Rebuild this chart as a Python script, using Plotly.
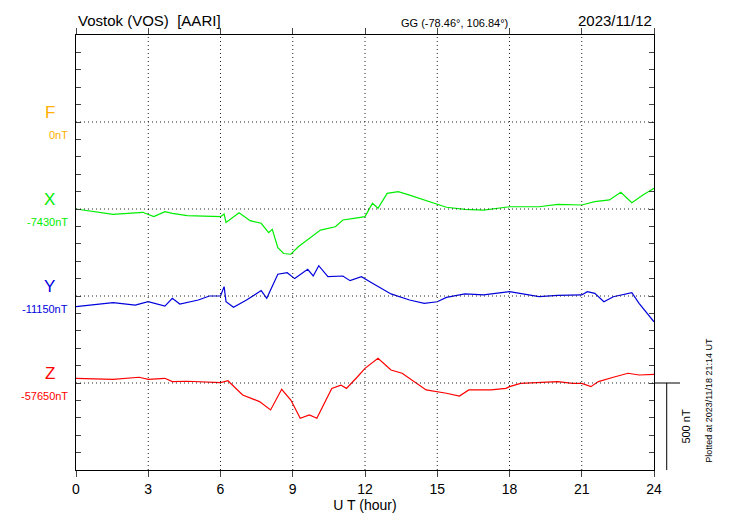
import plotly.graph_objects as go

# hours and deviations (nT)
x_hours = [0, 1.54, 2.77, 3.23, 3.69, 4.0, 4.62, 6.0, 6.15, 6.23, 6.77, 7.23, 7.69, 8.0, 8.15,
           8.38, 8.62, 8.92, 9.23, 9.69, 10.15, 10.77, 11.08, 11.54, 12.0, 12.31, 12.54, 12.92,
           13.38, 13.85, 14.46, 14.92, 15.38, 16.15, 16.92, 18, 19.23, 20, 21, 21.54, 22.15,
           22.62, 23.08, 23.54, 24]
x_vals = [0, -31, -19, -44, -15, -25, -38, -44, -29, -77, -21, -67, -82, -136, -117, -222,
          -256, -260, -217, -169, -121, -102, -63, -54, -44, 33, 4, 90, 100, 80, 52, 29, 10,
          -2, -6, 13, 13, 27, 23, 42, 52, 96, 36, 80, 119]

y_hours = [0, 1.54, 2.46, 3, 3.69, 4, 4.31, 5.08, 5.54, 6, 6.15, 6.23, 6.54, 7.08, 7.69, 7.92,
           8.38, 8.77, 9.08, 9.62, 9.85, 10.08, 10.46, 11.08, 11.38, 11.85, 12.31, 13.08, 13.85,
           14.46, 15, 15.38, 16.15, 16.92, 18, 18.46, 19.23, 20, 21, 21.23, 21.54, 21.92, 22.31,
           23.08, 23.38, 24]
y_vals = [-61, -38, -52, -33, -58, -13, -46, -23, 0, 0, 54, -33, -65, -23, 31, -13, 125, 134,
          100, 153, 115, 174, 111, 115, 88, 111, 73, 12, -23, -42, -33, -8, 12, 6, 25, 15, -4,
          4, 6, 25, 15, -33, -4, 19, -42, -148]

z_hours = [0, 1.54, 2.62, 3, 3.69, 4, 4.62, 6, 6.31, 6.92, 7.62, 8.08, 8.54, 8.92, 9.31, 9.69,
           10, 10.62, 11, 11.23, 11.69, 12, 12.54, 13.08, 13.54, 14.15, 14.54, 15.38, 15.92,
           16.31, 17.23, 17.85, 18, 18.46, 19.38, 20, 20.62, 21, 21.38, 21.69, 22.31, 22.92,
           23.38, 24]
z_vals = [27, 21, 33, 21, 27, 8, 10, 2, 13, -69, -107, -155, -36, -98, -203, -184, -203, -31,
          -12, -31, 36, 84, 142, 75, 56, -2, -40, -59, -75, -40, -40, -31, -21, -2, 2, 8, -2,
          -2, -21, 8, 33, 56, 46, 50]

components = ["F", "X", "Y", "Z"]
baselines = ["0nT", "-7430nT", "-11150nT", "-57650nT"]
offsets = [2000, 1500, 1000, 500]
colors = ["#ffb000", "#00ee00", "#0000dd", "#ff0000"]

fig = go.Figure()
series = [(x_hours, x_vals), (y_hours, y_vals), (z_hours, z_vals)]
for (hrs, vals), off, col, name in zip(series, offsets[1:], colors[1:], components[1:]):
    fig.add_trace(go.Scatter(x=hrs, y=[v + off for v in vals], mode="lines",
                             line=dict(color=col, width=1.2), name=name, showlegend=False))

# dotted grid lines
for off in offsets:
    fig.add_shape(type="line", xref="x", yref="y", x0=0, x1=24, y0=off, y1=off,
                  line=dict(color="#222222", width=1, dash="1px,3px"))
for h in range(3, 24, 3):
    fig.add_shape(type="line", xref="x", yref="y", x0=h, x1=h, y0=0, y1=2500,
                  line=dict(color="#222222", width=1, dash="1px,3px"))

# component labels
for comp, base, off, col in zip(components, baselines, offsets, colors):
    fig.add_annotation(x=-0.045, xref="paper", y=off - 10, yref="y", text=comp,
                       showarrow=False, font=dict(size=17, color=col), xanchor="center",
                       yanchor="bottom")
    fig.add_annotation(x=-0.01, xref="paper", y=off - 30, yref="y", text=base,
                       showarrow=False, font=dict(size=11, color=col), xanchor="right",
                       yanchor="top")

# 500 nT scale bar
fig.add_shape(type="line", xref="paper", yref="y", x0=1, x1=1.045, y0=500, y1=500,
              line=dict(color="black", width=1))
fig.add_shape(type="line", xref="paper", yref="y", x0=1.022, x1=1.022, y0=0, y1=500,
              line=dict(color="black", width=1))
fig.add_annotation(x=1.04, xref="paper", y=250, yref="y", text="500 nT", textangle=-90,
                   showarrow=False, font=dict(size=11), xanchor="left")
fig.add_annotation(x=1.108, xref="paper", y=400, yref="y", text="Plotted at 2023/11/18 21:14 UT",
                   textangle=-90, showarrow=False, font=dict(size=9))

# header
fig.add_annotation(x=0, xref="paper", y=1.01, yref="paper", text="Vostok (VOS)  [AARI]",
                   showarrow=False, xanchor="left", yanchor="bottom", font=dict(size=15))
fig.add_annotation(x=0.655, xref="paper", y=1.01, yref="paper",
                   text="GG (-78.46°, 106.84°)", showarrow=False, yanchor="bottom",
                   font=dict(size=11))
fig.add_annotation(x=1, xref="paper", y=1.01, yref="paper", text="2023/11/12",
                   showarrow=False, xanchor="right", yanchor="bottom", font=dict(size=15))

fig.update_layout(
    width=730, height=520, margin=dict(l=68, r=84, t=27, b=58),
    plot_bgcolor="white", paper_bgcolor="white",
    font=dict(family="Liberation Sans, Arial, sans-serif", color="black"),
    xaxis=dict(range=[0, 24], tickvals=list(range(0, 25, 3)), showgrid=False,
               ticks="outside", ticklen=6, showline=True, linecolor="black", mirror="ticks",
               title=dict(text="U T (hour)", standoff=2, font=dict(size=14)),
               tickfont=dict(size=14), zeroline=False),
    yaxis=dict(range=[0, 2500], dtick=100, showticklabels=False, showgrid=False,
               ticks="inside", ticklen=5, showline=True, linecolor="black", mirror="ticks",
               zeroline=False),
)

fig.write_html("out.html")
